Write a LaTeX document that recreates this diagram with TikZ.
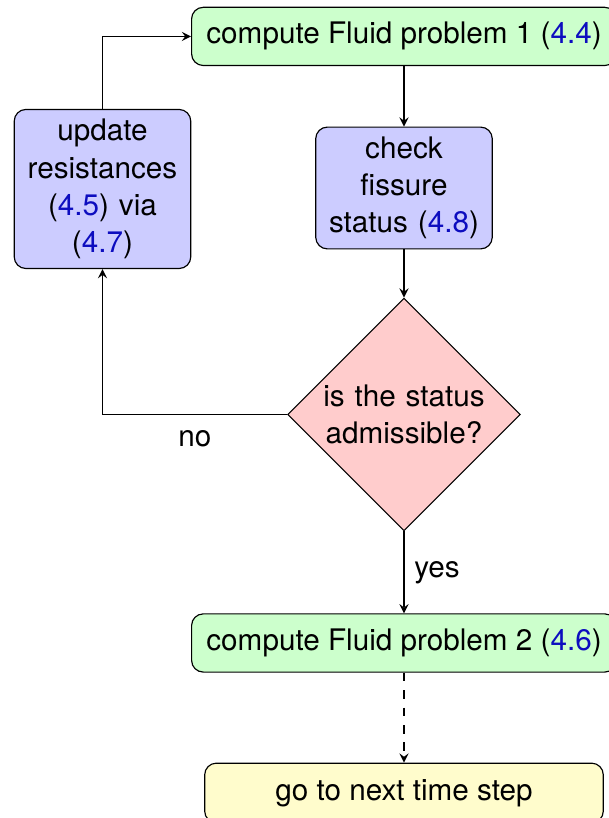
\documentclass[tikz,border=0pt]{standalone}
\usepackage{fontspec}
\setmainfont{TeX Gyre Heros}
\usepackage{xcolor}
\definecolor{refBlue}{rgb}{0.05,0.05,0.75}
\usetikzlibrary{shapes.geometric}
\newcommand{\eqlink}[1]{(\textcolor{refBlue}{#1})}

\begin{document}
\begin{tikzpicture}[>=stealth,
  every node/.style={font=\fontsize{10.2}{12.8}\selectfont},
  stage/.style={draw, rectangle, rounded corners, fill=green!20, minimum width=146pt, minimum height=20pt},
  action/.style={draw, rectangle, rounded corners, fill=blue!20, text width=54pt, align=center},
  query/.style={draw, diamond, aspect=1, fill=red!20, inner sep=0pt, minimum size=80pt, text width=56pt, align=center},
  finish/.style={draw, rectangle, rounded corners, fill=yellow!20, minimum width=137pt, minimum height=20.5pt}]
  \useasboundingbox (0,0) rectangle (7.345,9.881);

  % ---------------- the blocks ----------------
  \node[stage]  (fluidA)   at (4.880,9.441) {compute Fluid problem 1 \eqlink{4.4}};
  \node[action] (fissure)  at (4.880,7.610) {check fissure status \eqlink{4.8}};
  \node[action] (resist)   at (1.238,7.598) {update resistances \eqlink{4.5} via \eqlink{4.7}};
  \node[query]  (admiss)   at (4.880,4.874) {is the status admissible?};
  \node[stage]  (fluidB)   at (4.880,2.114) {compute Fluid problem 2 \eqlink{4.6}};
  \node[finish] (nextstep) at (4.880,0.302) {go to next time step};

  % ---------------- the connectors ----------------
  \draw[->] (fluidA) -- (fissure);
  \draw[->] (fissure) -- (admiss);
  \draw[->] (admiss.west) -| node[pos=0.25, below, yshift=-2pt] {no} (resist.south);
  \draw[->] (resist.north) |- (fluidA.west);
  \draw[->] (admiss) -- node[right] {yes} (fluidB);
  \draw[->, dashed] (fluidB) -- (nextstep);
\end{tikzpicture}
\end{document}
